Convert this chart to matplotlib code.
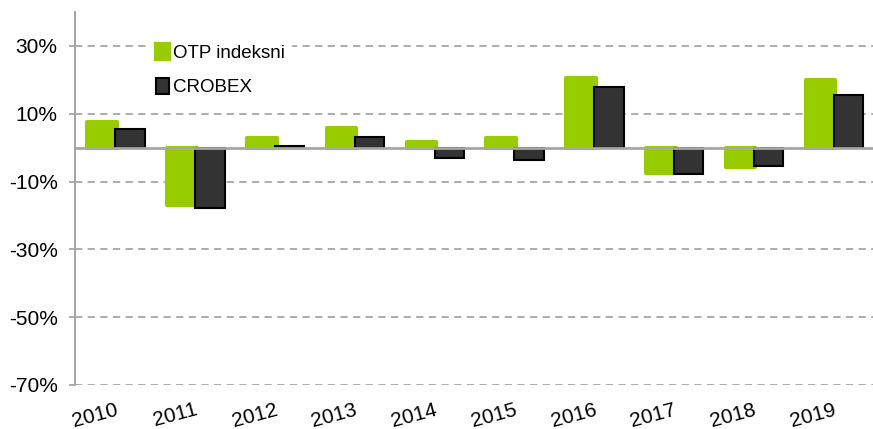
import matplotlib.pyplot as plt
import numpy as np

plt.rcParams['font.family'] = ['Liberation Sans', 'DejaVu Sans']

# Data (annual returns, %)
years = ["2010", "2011", "2012", "2013", "2014", "2015", "2016", "2017", "2018", "2019"]
otp = [7.6, -16.9, 2.9, 5.9, 1.8, 2.9, 20.5, -7.4, -5.7, 19.9]
crobex = [5.5, -17.8, 0.5, 3.0, -3.1, -3.5, 17.8, -7.7, -5.3, 15.5]

green = "#99cc00"
dark = "#333333"
grey = "#a6a6a6"

fig = plt.figure(figsize=(8.73, 4.29), dpi=100)
ax = fig.add_axes([0.086, 0.1026, 0.914, 0.8694])

x = np.arange(len(years))
w = 0.37
ax.bar(x - 0.16, otp, w, color=green, edgecolor=green, linewidth=3,
       joinstyle="round", label="OTP indeksni", zorder=3)
ax.bar(x + 0.19, crobex, w, color=dark, edgecolor="black", linewidth=1.5,
       label="CROBEX", zorder=4)

ax.axhline(0, color=grey, linewidth=2, zorder=5)

ax.set_ylim(-70, 40)
ax.set_xlim(-0.5, 9.5)
ax.set_yticks([-70, -50, -30, -10, 10, 30])
ax.set_yticklabels(["-70%", "-50%", "-30%", "-10%", "10%", "30%"], fontsize=15)
ax.yaxis.grid(True, linestyle=(0, (4, 3)), color=grey, linewidth=1.3, zorder=0)
ax.tick_params(axis="y", length=4.5, color=grey, width=1.3, pad=8)

ax.set_xticks(x)
ax.set_xticklabels(years, fontsize=15, rotation=15, ha="right",
                   rotation_mode="anchor")
ax.tick_params(axis="x", length=0, pad=11)

for s in ["top", "right", "bottom"]:
    ax.spines[s].set_visible(False)
ax.spines["left"].set_color(grey)
ax.spines["left"].set_linewidth(1.5)

leg = ax.legend(loc="upper left", bbox_to_anchor=(0.083, 0.955), fontsize=13.5,
                frameon=True, handlelength=0.7, handleheight=0.9,
                handletextpad=0.2, labelspacing=0.85, borderpad=0.3)
leg.get_frame().set_edgecolor("white")
leg.get_frame().set_facecolor("white")
leg.get_frame().set_alpha(1)
leg.set_zorder(6)

fig.savefig("out.png", dpi=100)
